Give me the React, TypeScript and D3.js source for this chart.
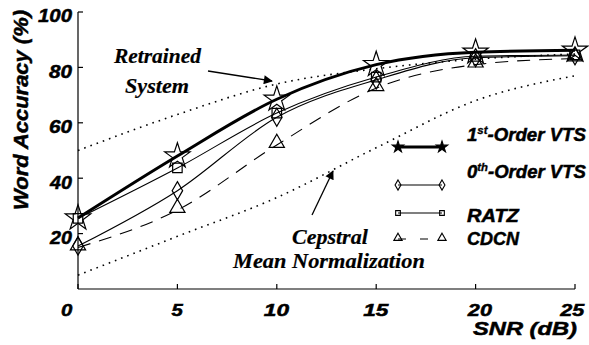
import React, { useEffect, useRef } from 'react';
import * as d3 from 'd3';

const snr = [0, 5, 10, 15, 20, 25];
const vts1 = [25.6, 48, 68.5, 81, 85.5, 86.2];
const vts0 = [15.5, 35.5, 62, 75.5, 83.5, 84.2];
const ratz = [25.5, 43.7, 63.5, 76.5, 84, 84.5];
const cdcn = [15, 28.5, 52, 72.5, 81, 83.2];
const retrained = [50, 63, 74, 79.5, 83, 84.8];
const cmn = [5, 19, 33, 51, 68, 77];
const yTicks = [20, 40, 60, 80, 100];
const xTicks = [0, 5, 10, 15, 20, 25];

const sans = '"Liberation Sans", Arial, sans-serif';
const serif = '"Liberation Serif", "Times New Roman", serif';

type Sel = d3.Selection<SVGTextElement, unknown, null, undefined>;

// stretch a text horizontally so its ink box runs from left to right
const fit = (sel: Sel, left: number, right: number) => {
  const bb = (sel.node() as SVGTextElement).getBBox();
  const k = (right - left) / bb.width;
  sel.attr('transform', `translate(${left},0) scale(${k},1) translate(${-bb.x},0)`);
};

const App = () => {
  const ref = useRef<SVGSVGElement>(null);

  useEffect(() => {
    const svg = d3.select(ref.current);
    svg.selectAll('*').remove();

    const x = d3.scaleLinear().domain([0, 25]).range([78, 575]);
    const y = d3.scaleLinear().domain([0, 100]).range([289, 12]);

    const txt = (font: string, size: number, baseline: number, s: string) =>
      svg.append('text').attr('x', 0).attr('y', baseline).attr('font-family', font)
        .attr('font-weight', 'bold').attr('font-style', 'italic').attr('font-size', size)
        .attr('stroke', '#000').attr('stroke-width', font === sans ? 0.5 : 0.2)
        .text(s) as unknown as Sel;

    // axes
    svg.append('line').attr('x1', 78).attr('x2', 78).attr('y1', y(100)).attr('y2', 289)
      .attr('stroke', '#000').attr('stroke-width', 1.2);
    svg.append('line').attr('x1', 78).attr('x2', 575).attr('y1', 289).attr('y2', 289)
      .attr('stroke', '#000').attr('stroke-width', 1.2);

    yTicks.forEach(t => {
      svg.append('line').attr('x1', 78).attr('x2', 83).attr('y1', y(t)).attr('y2', y(t))
        .attr('stroke', '#000').attr('stroke-width', 1.2);
      const s = String(t);
      const w = s.length === 3 ? 34 : 23;
      fit(txt(sans, 18, y(t) + 10.5, s), 72 - w, 72);
    });
    xTicks.forEach(t => {
      svg.append('line').attr('x1', x(t)).attr('x2', x(t)).attr('y1', 289).attr('y2', 284)
        .attr('stroke', '#000').attr('stroke-width', 1.2);
      const s = String(t);
      const w = s.length === 2 ? 26 : 12;
      const cx = t === 0 ? x(t) - 11 : t === 25 ? x(t) - 3 : t === 20 ? x(t) + 4 : x(t);
      fit(txt(sans, 17, 316, s), cx - w / 2, cx + w / 2);
    });

    fit(txt(sans, 19, 335, 'SNR (dB)'), 473, 577);
    svg.append('text').attr('transform', 'translate(28,110) rotate(-90)')
      .attr('text-anchor', 'middle').attr('font-family', sans).attr('font-weight', 'bold')
      .attr('font-style', 'italic').attr('font-size', 21).attr('stroke', '#000').attr('stroke-width', 0.5)
      .attr('textLength', 200).attr('lengthAdjust', 'spacingAndGlyphs').text('Word Accuracy (%)');

    const line = d3.line<number>().x((_, i) => x(snr[i])).y(d => y(d)).curve(d3.curveMonotoneX);

    const series = [
      { vals: retrained, w: 1.6, dash: '1.6 5', sym: null, size: 0 },
      { vals: cmn, w: 1.6, dash: '1.6 5', sym: null, size: 0 },
      { vals: cdcn, w: 1.1, dash: '13 9', sym: d3.symbolTriangle, size: 100 },
      { vals: ratz, w: 1.1, dash: null, sym: d3.symbolSquare, size: 90 },
      { vals: vts0, w: 1.1, dash: null, sym: d3.symbolDiamond, size: 95 },
      { vals: vts1, w: 3, dash: null, sym: d3.symbolStar, size: 200 },
    ];

    series.forEach(s => {
      svg.append('path').attr('d', line(s.vals)).attr('fill', 'none').attr('stroke', '#000')
        .attr('stroke-width', s.w).attr('stroke-dasharray', s.dash);
    });
    series.forEach(s => {
      if (!s.sym) return;
      const sym = d3.symbol().type(s.sym).size(s.size);
      svg.selectAll(null).data(s.vals).enter().append('path')
        .attr('transform', (d, i) => `translate(${x(snr[i])},${y(d) + (s.sym === d3.symbolTriangle ? -2 : 0)})`)
        .attr('d', sym()).attr('fill', 'none').attr('stroke', '#000').attr('stroke-width', 1.2);
    });

    // legend
    const legend = [
      { label: '1', sup: 'st', rest: '-Order VTS', y: 147, base: 141, right: 586, w: 3, dash: null, sym: d3.symbolStar, size: 40, fill: '#000' },
      { label: '0', sup: 'th', rest: '-Order VTS', y: 185, base: 178, right: 586, w: 1.1, dash: null, sym: d3.symbolDiamond, size: 30, fill: 'none' },
      { label: 'RATZ', sup: '', rest: '', y: 213, base: 222, right: 520, w: 1.1, dash: null, sym: d3.symbolSquare, size: 22, fill: 'none' },
      { label: 'CDCN', sup: '', rest: '', y: 239, base: 245, right: 520, w: 1.1, dash: '8 14', sym: d3.symbolTriangle, size: 30, fill: 'none' },
    ];
    legend.forEach(l => {
      svg.append('line').attr('x1', 398).attr('x2', 442).attr('y1', l.y).attr('y2', l.y)
        .attr('stroke', '#000').attr('stroke-width', l.w).attr('stroke-dasharray', l.dash);
      [398, 442].forEach(px => {
        svg.append('path').attr('transform', `translate(${px},${l.y - (l.sym === d3.symbolTriangle ? 1 : 0)})`)
          .attr('d', d3.symbol().type(l.sym).size(l.size)()).attr('fill', l.fill)
          .attr('stroke', '#000').attr('stroke-width', 1.1);
      });
      const t = txt(sans, 18, l.base, '');
      t.append('tspan').text(l.label);
      if (l.sup) {
        t.append('tspan').attr('font-size', 11).attr('stroke-width', 0.3).attr('dy', -7).text(l.sup);
        t.append('tspan').attr('dy', 7).text(l.rest);
      }
      fit(t, 467, l.right);
    });

    // annotations
    svg.append('defs').append('marker').attr('id', 'ah').attr('viewBox', '0 0 10 10')
      .attr('refX', 9).attr('refY', 5).attr('markerWidth', 12).attr('markerHeight', 9)
      .attr('markerUnits', 'userSpaceOnUse').attr('orient', 'auto')
      .append('path').attr('d', 'M0,0 L10,5 L0,10 z').attr('fill', '#000');

    fit(txt(serif, 22, 63, 'Retrained'), 113, 202);
    fit(txt(serif, 22, 93, 'System'), 125, 189);
    fit(txt(serif, 21, 244, 'Cepstral'), 292, 368);
    fit(txt(serif, 21, 268, 'Mean Normalization'), 232, 425);

    svg.append('line').attr('x1', 208).attr('y1', 71).attr('x2', 272).attr('y2', 81)
      .attr('stroke', '#000').attr('stroke-width', 1.3).attr('marker-end', 'url(#ah)');
    svg.append('line').attr('x1', 312).attr('y1', 215).attr('x2', 333).attr('y2', 171)
      .attr('stroke', '#000').attr('stroke-width', 1.3).attr('marker-end', 'url(#ah)');
  }, []);

  return (
    <svg ref={ref} width={589} height={345}
      style={{ position: 'absolute', left: 0, top: 0, background: '#fff' }} />
  );
};

export default App;
